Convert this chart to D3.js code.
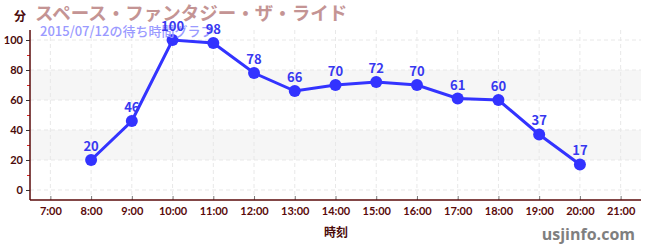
<!DOCTYPE html>
<html>
<head>
<meta charset="utf-8">
<script src="https://cdn.jsdelivr.net/npm/d3@7"></script>
<style>
body { margin: 0; background: #fff; }
svg { font-family: "Noto Sans CJK JP", "Noto Sans", sans-serif; }
</style>
</head>
<body>
<div class="chart"></div>
<script>
const hours = [8, 9, 10, 11, 12, 13, 14, 15, 16, 17, 18, 19, 20];
const waits = [20, 46, 100, 98, 78, 66, 70, 72, 70, 61, 60, 37, 17];
const tickHours = [7, 8, 9, 10, 11, 12, 13, 14, 15, 16, 17, 18, 19, 20, 21];
const yTicks = [0, 20, 40, 60, 80, 100];
const bands = [[20, 40], [60, 80]];

const width = 650, height = 250;
const plotLeft = 30, plotRight = 641, plotTop = 30, plotBottom = 200;

const svg = d3.select('.chart').append('svg')
	.attr('width', width)
	.attr('height', height);

const x = d3.scaleLinear().domain([6.5, 21.5]).range([plotLeft, plotRight]);
const y = d3.scaleLinear().domain([-6.67, 106.67]).range([plotBottom, plotTop]);

// bands
svg.selectAll('.band')
	.data(bands)
	.enter()
	.append('rect')
	.attr('x', plotLeft)
	.attr('width', plotRight - plotLeft)
	.attr('y', function(d) { return y(d[1]); })
	.attr('height', function(d) { return y(d[0]) - y(d[1]); })
	.attr('fill', '#f6f6f6');

// grid
svg.selectAll('.vgrid')
	.data(tickHours)
	.enter()
	.append('line')
	.attr('x1', function(d) { return x(d); })
	.attr('x2', function(d) { return x(d); })
	.attr('y1', plotTop)
	.attr('y2', plotBottom)
	.attr('stroke', '#e8e8e8')
	.attr('stroke-dasharray', '4,3');

svg.selectAll('.hgrid')
	.data(yTicks)
	.enter()
	.append('line')
	.attr('x1', plotLeft)
	.attr('x2', plotRight)
	.attr('y1', function(d) { return y(d); })
	.attr('y2', function(d) { return y(d); })
	.attr('stroke', '#e8e8e8')
	.attr('stroke-dasharray', '4,3');

// y axis
const yAxis = svg.append('g')
	.attr('transform', `translate(${plotLeft},0)`)
	.call(d3.axisLeft(y).tickValues(yTicks).tickSize(4).tickPadding(3));
yAxis.select('.domain').remove();
yAxis.selectAll('.tick line').attr('stroke', '#333');
yAxis.selectAll('text').attr('fill', '#4a0a0a').attr('font-size', '11px')
	.attr('font-weight', 'bold').attr('font-family', 'Lato, sans-serif');

svg.append('g')
	.attr('transform', `translate(${plotLeft},0)`)
	.call(d3.axisLeft(y).tickValues([10, 30, 50, 70, 90]).tickSize(3).tickFormat(''))
	.call(function(g) { g.select('.domain').remove(); })
	.selectAll('.tick line').attr('stroke', '#dd2222');

svg.append('line')
	.attr('x1', plotLeft).attr('x2', plotLeft)
	.attr('y1', plotTop).attr('y2', plotBottom)
	.attr('stroke', '#5a0a0a').attr('stroke-width', 1.5);

// x axis
const xAxis = svg.append('g')
	.attr('transform', `translate(0,${plotBottom})`)
	.call(d3.axisBottom(x).tickValues(tickHours).tickSize(-4).tickPadding(7)
		.tickFormat(function(d) { return d + ':00'; }));
xAxis.select('.domain').remove();
xAxis.selectAll('.tick line').attr('stroke', '#777');
xAxis.selectAll('text').attr('fill', '#5a0a0a').attr('font-size', '11px')
	.attr('font-weight', 'bold').attr('font-family', 'Lato, sans-serif');

svg.append('line')
	.attr('x1', plotLeft).attr('x2', plotRight)
	.attr('y1', plotBottom).attr('y2', plotBottom)
	.attr('stroke', '#5a0a0a').attr('stroke-width', 1.5);

// line + points
const line = d3.line()
	.x(function(d, i) { return x(hours[i]); })
	.y(function(d) { return y(d); });

svg.append('path')
	.datum(waits)
	.attr('d', line)
	.attr('fill', 'none')
	.attr('stroke', '#3333ff')
	.attr('stroke-width', 3);

svg.selectAll('circle')
	.data(waits)
	.enter()
	.append('circle')
	.attr('cx', function(d, i) { return x(hours[i]); })
	.attr('cy', function(d) { return y(d); })
	.attr('r', 6)
	.attr('fill', '#3333ff');

// titles
svg.append('text')
	.attr('x', 35).attr('y', 20)
	.text('スペース・ファンタジー・ザ・ライド')
	.attr('font-size', '18.5px').attr('font-weight', 'bold')
	.attr('fill', '#c49494');

svg.append('text')
	.attr('x', 40).attr('y', 36)
	.text('2015/07/12の待ち時間グラフ')
	.attr('font-size', '13px').attr('font-weight', '500')
	.attr('fill', '#9a9aff');

svg.selectAll('.lbl')
	.data(waits)
	.enter()
	.append('text')
	.attr('text-anchor', 'middle')
	.attr('x', function(d, i) { return x(hours[i]); })
	.attr('y', function(d) { return y(d) - 9; })
	.text(function(d) { return d; })
	.attr('font-size', '13px').attr('font-weight', 'bold')
	.attr('fill', '#3838f0');

svg.append('text')
	.attr('x', 20).attr('y', 21)
	.attr('text-anchor', 'middle')
	.text('分')
	.attr('font-size', '12px').attr('font-weight', 'bold')
	.attr('fill', '#4a0a0a');

svg.append('text')
	.attr('x', 336).attr('y', 237)
	.attr('text-anchor', 'middle')
	.text('時刻')
	.attr('font-size', '12px').attr('font-weight', 'bold')
	.attr('fill', '#4a0a0a');

svg.append('text')
	.attr('x', 635).attr('y', 240)
	.attr('text-anchor', 'end')
	.text('usjinfo.com')
	.attr('font-size', '16px').attr('font-weight', 'bold')
	.attr('font-family', '"Open Sans", sans-serif')
	.attr('fill', '#7f7f7f');
</script>
</body>
</html>
